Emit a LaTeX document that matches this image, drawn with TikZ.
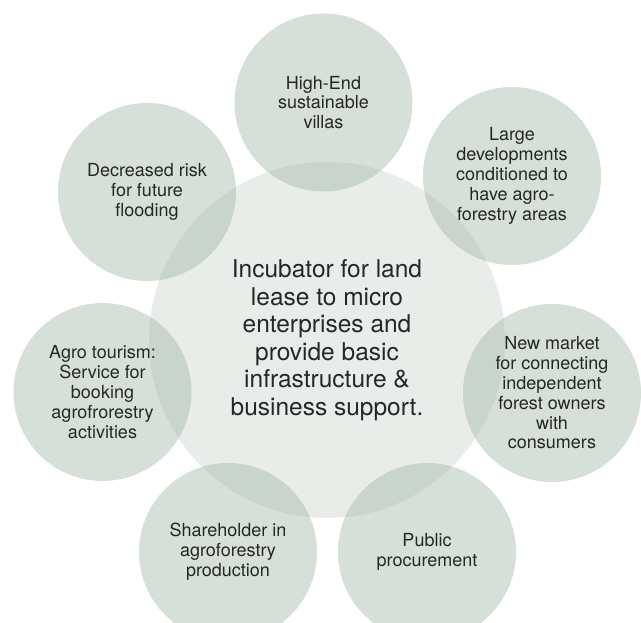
\documentclass[tikz,border=0pt]{standalone}
\usepackage{fontspec}
\setmainfont{TeX Gyre Heros}
\definecolor{sage}{RGB}{150,170,154}
\definecolor{inktext}{RGB}{38,38,38}

\begin{document}
\begin{tikzpicture}[x=1pt,y=-1pt]
    % Styles
    \tikzstyle{hubcircle} = [circle, fill=sage, fill opacity=0.21, text opacity=1, text=inktext, minimum size=356pt, inner sep=0pt, align=center, font=\fontsize{24.5}{27.5}\selectfont]
    \tikzstyle{leaf} = [circle, fill=sage, fill opacity=0.38, text opacity=1, text=inktext, minimum size=178pt, inner sep=0pt, align=center, font=\fontsize{18}{19.8}\selectfont]

    \useasboundingbox (0,0) rectangle (641,623);

    % Centre
    \node [hubcircle] (hub) at (327,340) {Incubator for land\\lease to micro\\enterprises and\\provide basic\\infrastructure \&\\business support.};

    % Surrounding circles
    \node [leaf] (villas) at (323.5,102.5) {High-End\\sustainable\\villas};
    \node [leaf] (develop) at (512,176) {Large\\developments\\conditioned to\\have agro-\\forestry areas};
    \node [leaf] (market) at (552,393) {New market\\for connecting\\independent\\forest owners\\with\\consumers};
    \node [leaf] (procure) at (427,552) {Public\\procurement};
    \node [leaf] (share) at (228,552) {Shareholder in\\agroforestry\\production};
    \node [leaf] (tourism) at (102.5,392) {Agro tourism:\\Service for\\booking\\agrofrorestry\\activities};
    \node [leaf] (flood) at (147,192) {Decreased risk\\for future\\flooding};

\end{tikzpicture}
\end{document}
